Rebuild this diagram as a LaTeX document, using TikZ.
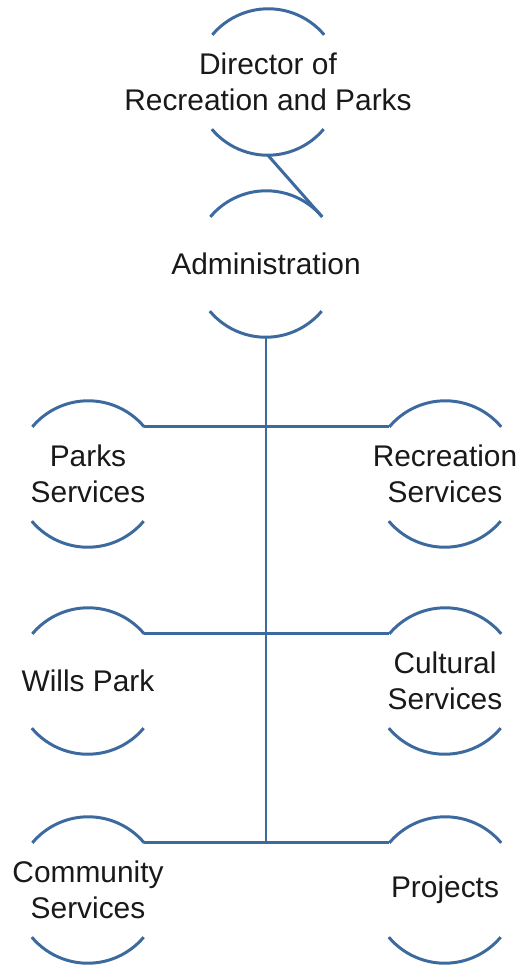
\documentclass[tikz,border=0pt]{standalone}
\usepackage{fontspec}
\setmainfont{Liberation Sans}
\usetikzlibrary{positioning}
\definecolor{parkblue}{HTML}{3D6A9E}

\begin{document}
\begin{tikzpicture}[x=0.2mm, y=-0.2mm,
    unit/.style={circle, minimum size=2.92cm, inner sep=0pt},
    lbl/.style={align=center, font=\fontsize{17}{20.5}\selectfont, text=black!90},
    rim/.style={line width=1.7pt, parkblue},
    link/.style={line width=1.7pt, parkblue},
]
    \useasboundingbox (0,0) rectangle (517,968);

    % Top
    \node[unit, label={[lbl]center:Director of\\Recreation and Parks}] (dir) at (268, 82) {};
    \node[unit, label={[lbl]center:Administration}] (admin) at (266, 264) {};

    % Left column
    \node[unit, label={[lbl]center:Parks\\Services}] (parks) at (88, 474) {};
    \node[unit, label={[lbl]center:Wills Park}] (wills) at (88, 681) {};
    \node[unit, label={[lbl]center:Community\\Services}] (comm) at (88, 890) {};

    % Right column
    \node[unit, label={[lbl]center:Recreation\\Services}] (rec) at (445, 474) {};
    \node[unit, label={[lbl]center:Cultural\\Services}] (cult) at (445, 681) {};
    \node[unit, label={[lbl]center:Projects}] (proj) at (445, 890) {};

    % Arcs
    \draw[rim] (dir.40) arc[start angle=40, end angle=140, radius=1.46cm] (dir.220) arc[start angle=220, end angle=320, radius=1.46cm];
    \draw[rim] (admin.40) arc[start angle=40, end angle=140, radius=1.46cm] (admin.220) arc[start angle=220, end angle=320, radius=1.46cm];
    \draw[rim] (parks.40) arc[start angle=40, end angle=140, radius=1.46cm] (parks.220) arc[start angle=220, end angle=320, radius=1.46cm];
    \draw[rim] (wills.40) arc[start angle=40, end angle=140, radius=1.46cm] (wills.220) arc[start angle=220, end angle=320, radius=1.46cm];
    \draw[rim] (comm.40) arc[start angle=40, end angle=140, radius=1.46cm] (comm.220) arc[start angle=220, end angle=320, radius=1.46cm];
    \draw[rim] (rec.40) arc[start angle=40, end angle=140, radius=1.46cm] (rec.220) arc[start angle=220, end angle=320, radius=1.46cm];
    \draw[rim] (cult.40) arc[start angle=40, end angle=140, radius=1.46cm] (cult.220) arc[start angle=220, end angle=320, radius=1.46cm];
    \draw[rim] (proj.40) arc[start angle=40, end angle=140, radius=1.46cm] (proj.220) arc[start angle=220, end angle=320, radius=1.46cm];

    % Links
    \draw[link] (dir.south) -- (admin.40);
    \draw[link] (admin.south) -- (admin.south |- comm.40);
    \draw[link] (parks.40) -- (rec.140);
    \draw[link] (wills.40) -- (cult.140);
    \draw[link] (comm.40) -- (proj.140);
\end{tikzpicture}
\end{document}
